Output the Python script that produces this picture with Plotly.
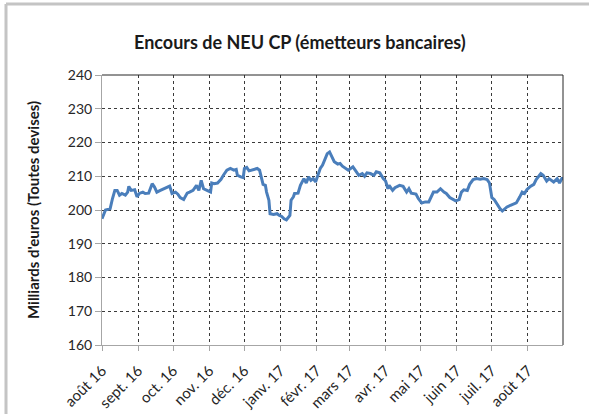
import plotly.graph_objects as go

dates = [
    "2016-08-01", "2016-08-02", "2016-08-04", "2016-08-06", "2016-08-08", "2016-08-10",
    "2016-08-12", "2016-08-14", "2016-08-16", "2016-08-18", "2016-08-21", "2016-08-23",
    "2016-08-24", "2016-08-26", "2016-08-29", "2016-08-31", "2016-09-02", "2016-09-05",
    "2016-09-07", "2016-09-10", "2016-09-13", "2016-09-15", "2016-09-17", "2016-09-20",
    "2016-09-23", "2016-09-26", "2016-09-28", "2016-09-30", "2016-10-03", "2016-10-05",
    "2016-10-07", "2016-10-10", "2016-10-13", "2016-10-15", "2016-10-18", "2016-10-21",
    "2016-10-23", "2016-10-25", "2016-10-27", "2016-10-30", "2016-11-02", "2016-11-03",
    "2016-11-05", "2016-11-08", "2016-11-11", "2016-11-13", "2016-11-16", "2016-11-19",
    "2016-11-22", "2016-11-24", "2016-11-25", "2016-11-28", "2016-11-30", "2016-12-01",
    "2016-12-03", "2016-12-05", "2016-12-09", "2016-12-12", "2016-12-14", "2016-12-16",
    "2016-12-17", "2016-12-19", "2016-12-20", "2016-12-22", "2016-12-23", "2016-12-26",
    "2016-12-29", "2016-12-31", "2017-01-02", "2017-01-04", "2017-01-06", "2017-01-09",
    "2017-01-10", "2017-01-12", "2017-01-13", "2017-01-16", "2017-01-18", "2017-01-21",
    "2017-01-23", "2017-01-25", "2017-01-27", "2017-01-29", "2017-01-31", "2017-02-02",
    "2017-02-04", "2017-02-06", "2017-02-08", "2017-02-10", "2017-02-12", "2017-02-14",
    "2017-02-16", "2017-02-19", "2017-02-21", "2017-02-23", "2017-02-25", "2017-02-28",
    "2017-03-02", "2017-03-04", "2017-03-07", "2017-03-09", "2017-03-12", "2017-03-14",
    "2017-03-16", "2017-03-19", "2017-03-22", "2017-03-24", "2017-03-27", "2017-03-30",
    "2017-04-01", "2017-04-03", "2017-04-04", "2017-04-07", "2017-04-09", "2017-04-11",
    "2017-04-13", "2017-04-16", "2017-04-19", "2017-04-21", "2017-04-23", "2017-04-27",
    "2017-04-29", "2017-05-02", "2017-05-05", "2017-05-08", "2017-05-10", "2017-05-12",
    "2017-05-15", "2017-05-18", "2017-05-21", "2017-05-23", "2017-05-26", "2017-05-29",
    "2017-05-31", "2017-06-03", "2017-06-05", "2017-06-07", "2017-06-10", "2017-06-12",
    "2017-06-15", "2017-06-18", "2017-06-21", "2017-06-24", "2017-06-27", "2017-06-29",
    "2017-06-30", "2017-07-01", "2017-07-03", "2017-07-05", "2017-07-08", "2017-07-10",
    "2017-07-12", "2017-07-14", "2017-07-17", "2017-07-20", "2017-07-22", "2017-07-25",
    "2017-07-27", "2017-07-29", "2017-07-31", "2017-08-03", "2017-08-06", "2017-08-08",
    "2017-08-10", "2017-08-12", "2017-08-14", "2017-08-17", "2017-08-19", "2017-08-21",
    "2017-08-23", "2017-08-26", "2017-08-28", "2017-08-30", "2017-08-31",
]

encours = [
    197.4, 198.4, 200.0, 200.2, 200.4, 203.4,
    205.8, 205.8, 204.4, 204.9, 204.4, 205.3,
    207.0, 205.8, 206.0, 203.9, 204.9, 205.3,
    204.9, 205.0, 207.8, 206.8, 205.3, 205.8,
    206.3, 206.8, 207.1, 204.9, 205.3, 204.7,
    203.7, 203.1, 205.0, 205.3, 205.8, 207.3,
    205.8, 208.8, 206.3, 205.8, 205.3, 208.0,
    207.8, 208.0, 209.1, 210.3, 211.8, 212.3,
    211.8, 212.0, 210.3, 209.8, 209.6, 212.3,
    212.6, 211.6, 212.0, 212.3, 211.8, 209.3,
    207.6, 207.3, 205.3, 202.9, 198.9, 198.7,
    198.9, 198.4, 198.1, 197.4, 197.1, 198.4,
    202.9, 203.9, 204.9, 205.0, 207.3, 209.3,
    208.0, 209.8, 208.8, 209.3, 208.3, 210.3,
    212.3, 213.3, 214.8, 216.7, 217.2, 215.7,
    214.3, 213.6, 213.8, 213.0, 212.6, 211.8,
    212.3, 212.8, 211.3, 210.3, 210.8, 210.0,
    211.0, 210.8, 210.3, 211.3, 211.0, 209.3,
    208.6, 206.3, 207.3, 205.8, 206.6, 207.0,
    207.3, 207.0, 205.3, 206.3, 205.0, 204.7,
    203.4, 202.1, 202.4, 202.4, 203.9, 205.3,
    205.3, 206.3, 205.3, 204.9, 203.7, 203.1,
    202.7, 203.1, 205.3, 206.0, 205.8, 207.6,
    209.0, 209.3, 209.1, 209.3, 209.0, 208.0,
    205.8, 203.7, 203.1, 201.9, 200.4, 199.7,
    200.4, 200.9, 201.4, 201.9, 202.1, 203.9,
    205.3, 204.9, 206.0, 207.0, 207.6, 209.0,
    209.8, 210.8, 210.3, 208.6, 209.3, 208.8,
    208.3, 209.3, 208.0, 209.3, 209.3,
]

month_ticks = [
    "2016-08-01", "2016-09-01", "2016-10-01", "2016-11-01", "2016-12-01",
    "2017-01-01", "2017-02-01", "2017-03-01", "2017-04-01", "2017-05-01",
    "2017-06-01", "2017-07-01", "2017-08-01",
]
month_labels = [
    "août 16", "sept. 16", "oct. 16", "nov. 16", "déc. 16", "janv. 17",
    "févr. 17", "mars 17", "avr. 17", "mai 17", "juin 17", "juil. 17", "août 17",
]
y_ticks = [160, 170, 180, 190, 200, 210, 220, 230, 240]

title_text = "Encours de NEU CP (émetteurs bancaires)"
y_title = "Milliards d'euros (Toutes devises)"

W, H = 589, 414
ML, MR, MT, MB = 102, 26, 75, 69
pw, ph = W - ML - MR, H - MT - MB

def px_x(x):
    return (x - ML) / pw

def px_y(y):
    return (H - MB - y) / ph

fig = go.Figure()
fig.add_trace(go.Scatter(
    x=dates, y=encours, mode="lines",
    line=dict(color="#4a7ebb", width=3),
    hoverinfo="x+y", showlegend=False,
))

font_family = "Lato, 'Open Sans', sans-serif"

fig.update_layout(
    width=W, height=H,
    margin=dict(l=ML, r=MR, t=MT, b=MB, autoexpand=False),
    paper_bgcolor="white", plot_bgcolor="white",
    font=dict(family=font_family, color="#262626"),
    xaxis=dict(
        type="date",
        range=["2016-08-01", "2017-08-31"],
        tickmode="array", tickvals=month_ticks, ticktext=month_labels,
        tickangle=-45,
        tickfont=dict(size=15, color="#262626"),
        ticklabelstandoff=5,
        showgrid=True, gridcolor="#3a3a3a", griddash="dot", gridwidth=1,
        showline=True, linecolor="#a6a6a6", linewidth=1,
        ticks="outside", ticklen=5, tickcolor="#a6a6a6",
        zeroline=False, fixedrange=True, automargin=False,
    ),
    yaxis=dict(
        range=[160, 240],
        tickmode="array", tickvals=y_ticks,
        tickfont=dict(size=14, color="#262626"),
        showgrid=True, gridcolor="#3a3a3a", griddash="dot", gridwidth=1,
        showline=True, linecolor="#a6a6a6", linewidth=1,
        ticks="outside", ticklen=6, tickcolor="#a6a6a6",
        zeroline=False, fixedrange=True, automargin=False,
    ),
    annotations=[
        dict(text="<b>" + title_text + "</b>", xref="paper", yref="paper",
             x=px_x(300), y=px_y(42), xanchor="center", yanchor="middle",
             showarrow=False, font=dict(size=18, family=font_family, color="#1a1a1a")),
        dict(text="<b>" + y_title + "</b>", xref="paper", yref="paper",
             x=px_x(33), y=px_y(210), xanchor="center", yanchor="middle",
             textangle=-90, showarrow=False,
             font=dict(size=15, family=font_family, color="#1a1a1a")),
    ],
    shapes=[
        dict(type="line", xref="paper", yref="paper", x0=0, x1=1, y0=1, y1=1,
             line=dict(color="#262626", width=1)),
        dict(type="line", xref="paper", yref="paper", x0=1, x1=1, y0=0, y1=1,
             line=dict(color="#262626", width=1)),
        dict(type="line", xref="paper", yref="paper",
             x0=px_x(6), x1=px_x(6), y0=px_y(4), y1=px_y(H + 5),
             line=dict(color="#c4c4c4", width=3)),
        dict(type="line", xref="paper", yref="paper",
             x0=px_x(6), x1=px_x(W + 5), y0=px_y(4), y1=px_y(4),
             line=dict(color="#c4c4c4", width=3)),
    ],
)

fig.write_html("out.html", config={"displayModeBar": False},
               post_script="document.body.style.margin='0';")
